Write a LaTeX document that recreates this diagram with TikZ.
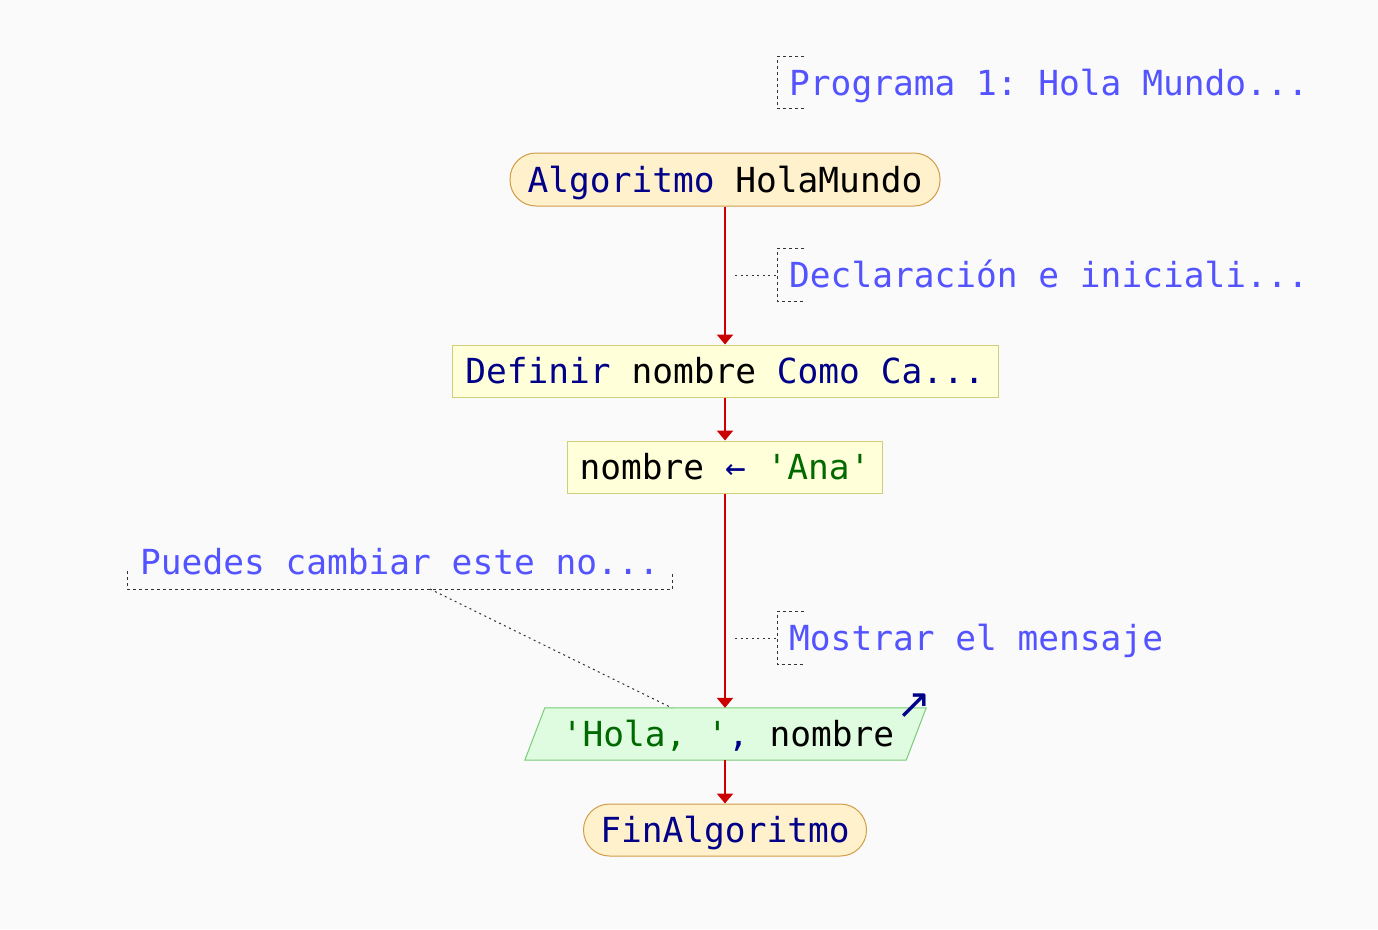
\documentclass[tikz,border=0pt]{standalone}
\usepackage{fontspec}
\setmonofont{DejaVu Sans Mono}
\newfontfamily\symfont{DejaVu Sans}
\usetikzlibrary{arrows.meta}
\definecolor{bg}{HTML}{FAFAFA}
\definecolor{kw}{HTML}{000088}
\definecolor{str}{HTML}{006A00}
\definecolor{cmt}{HTML}{5353FF}
\definecolor{termfill}{HTML}{FFF1CC}
\definecolor{termline}{HTML}{D29C48}
\definecolor{procfill}{HTML}{FFFFDA}
\definecolor{procline}{HTML}{CFCF78}
\definecolor{iofill}{HTML}{E0FCE0}
\definecolor{ioline}{HTML}{78CC78}
\definecolor{flowred}{HTML}{CC0000}
\definecolor{dotgray}{HTML}{333333}
\tikzset{
  code/.style={font=\ttfamily\fontsize{34.5}{40}\selectfont, inner sep=0pt, text height=25pt, text depth=0pt},
  term/.style={code, draw=termline, fill=termfill, line width=1pt, rounded corners=26pt},
  proc/.style={code, draw=procline, fill=procfill, line width=1pt},
  io/.style={draw=ioline, fill=iofill, line width=1pt},
  cmt/.style={code, text=cmt, anchor=west, inner xsep=12pt},
  brk/.style={draw=dotgray, line width=1pt, dash pattern=on 3pt off 3pt},
  conn/.style={draw=dotgray, line width=1pt, dash pattern=on 2pt off 3.5pt},
  flow/.style={draw=flowred, line width=2.5pt, -{Triangle[width=16pt,length=10pt]}}
}
\begin{document}
\begin{tikzpicture}[x=1pt,y=-1pt]
\fill[bg] (0,0) rectangle (1378,929);
\useasboundingbox (0,0) rectangle (1378,929);

% main flow nodes
\node[term, minimum width=430pt, minimum height=53pt] (start) at (725,179.5) {\textcolor{kw}{Algoritmo} HolaMundo};
\node[proc, minimum width=546pt, minimum height=52pt] (def) at (725,371) {\textcolor{kw}{Definir} nombre \textcolor{kw}{Como Ca...}};
\node[proc, minimum width=315pt, minimum height=52pt] (asg) at (725,467) {nombre \textcolor{kw}{←} \textcolor{str}{'Ana'}};
\node[code, minimum width=381pt, minimum height=52pt] (out) at (725,734) {};
\draw[io] ([xshift=10.5pt]out.north west) -- ([xshift=10.5pt]out.north east) -- ([xshift=-9.5pt]out.south east) -- ([xshift=-9.5pt]out.south west) -- cycle;
\node[code] (outtxt) at (728,734) {\textcolor{str}{'Hola, '}\textcolor{kw}{,} nombre};
\node[font=\symfont\fontsize{42}{46}\selectfont, text=kw, inner sep=0pt] (outmark) at (914,706) {↗};
\node[term, minimum width=283pt, minimum height=52pt] (end) at (725,830) {\textcolor{kw}{FinAlgoritmo}};

% flow arrows
\draw[flow] (start) -- (def);
\draw[flow] (def) -- (asg);
\draw[flow] (asg) -- (out);
\draw[flow] (out) -- (end);

% comments
\node[cmt, minimum height=51pt] (c1) at (777,82.5) {Programa 1: Hola Mundo...};
\draw[brk] ([xshift=27pt]c1.north west) -- (c1.north west) -- (c1.south west) -- ([xshift=27pt]c1.south west);

\node[cmt, minimum height=52pt] (c2) at (777,275) {Declaración e iniciali...};
\draw[brk] ([xshift=27pt]c2.north west) -- (c2.north west) -- (c2.south west) -- ([xshift=27pt]c2.south west);
\coordinate (k2) at (735,275);
\draw[conn] (k2) -- (c2.west);

\node[cmt, minimum height=52pt] (c3) at (777,638) {Mostrar el mensaje};
\draw[brk] ([xshift=27pt]c3.north west) -- (c3.north west) -- (c3.south west) -- ([xshift=27pt]c3.south west);
\coordinate (k3) at (735,638);
\draw[conn] (k3) -- (c3.west);

\node[cmt, inner xsep=13pt, minimum height=54pt] (c4) at (127,562) {Puedes cambiar este no...};
\draw[brk] ([yshift=18pt]c4.south west) -- (c4.south west) -- (c4.south east) -- ([yshift=18pt]c4.south east);
\coordinate (k4) at (430,589);
\coordinate (k5) at (672,708);
\draw[conn] (k4) -- (k5);
\end{tikzpicture}
\end{document}
